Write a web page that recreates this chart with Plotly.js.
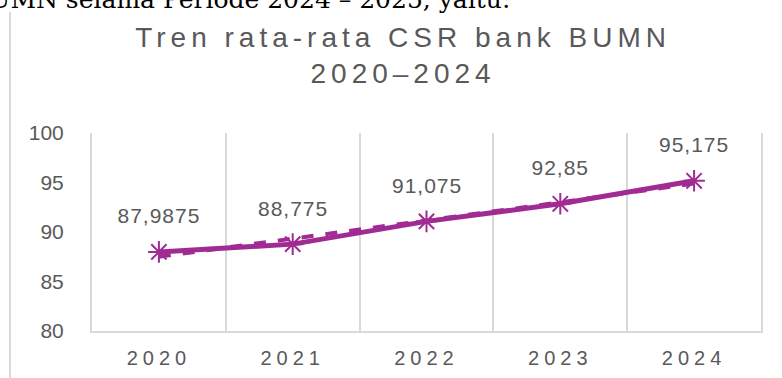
<!DOCTYPE html>
<html><head><meta charset="utf-8">
<script src="https://cdn.plot.ly/plotly-3.0.1.min.js"></script>
<style>
html,body{margin:0;padding:0;background:#fff;}
.gtitle{letter-spacing:5px;}
.xtick text{letter-spacing:5px;}
.annotation .annotation-text{letter-spacing:1px;}
.annotation[data-index="5"] .annotation-text{letter-spacing:0;}
</style>
</head><body><div id="chart" style="width:782px;height:378px;"></div>
<script>
const years = ["2020", "2021", "2022", "2023", "2024"];
const avgCSR = [87.9875, 88.775, 91.075, 92.85, 95.175];
const avgLabels = ["87,9875", "88,775", "91,075", "92,85", "95,175"];
const trendCSR = [87.5, 89.3, 91.2, 93.0, 94.9];
const yTicks = [80, 85, 90, 95, 100];
const titleText = "Tren rata-rata CSR bank BUMN<br>2020–2024";
const pageText = "BUMN selama Periode 2024 – 2025, yaitu:";

const purple = "#A02B93";
const gray = "#595959";
const font = "Liberation Sans, Arial, sans-serif";

const traces = [
  {
    x: years, y: avgCSR, type: "scatter", mode: "lines+markers",
    line: {color: purple, width: 5},
    marker: {symbol: "asterisk-open", size: 18, color: purple, line: {color: purple, width: 2}},
    hoverinfo: "skip", showlegend: false
  },
  {
    x: years, y: trendCSR, type: "scatter", mode: "lines",
    line: {color: purple, width: 4, dash: "dash"},
    hoverinfo: "skip", showlegend: false
  }
];

// category axes place annotations by category index
const annotations = years.map((yr, i) => ({
  x: i, y: avgCSR[i], text: avgLabels[i], showarrow: false, yshift: 36,
  font: {family: font, size: 21, color: gray}
}));
annotations.push({
  xref: "paper", yref: "paper", x: 0.628, y: 1.59, xanchor: "right", yanchor: "bottom",
  text: pageText, showarrow: false,
  font: {family: "DejaVu Serif, serif", size: 25, color: "#000"}
});

const layout = {
  width: 782, height: 378,
  margin: {l: 92, r: 21, t: 133, b: 47, pad: 0},
  paper_bgcolor: "#fff", plot_bgcolor: "#fff",
  title: {
    text: titleText, xref: "paper", x: 0.465, xanchor: "center",
    yref: "container", y: 0.876, yanchor: "middle",
    font: {family: font, size: 28, color: gray}
  },
  xaxis: {
    type: "category", categoryarray: years, range: [-0.5, years.length - 0.5],
    tickson: "boundaries", showgrid: true, gridcolor: "#d9d9d9", gridwidth: 2,
    showline: true, linecolor: "#d9d9d9", linewidth: 2, ticks: "", zeroline: false,
    tickangle: 0, ticklabelstandoff: 8,
    tickfont: {family: font, size: 20, color: gray}, fixedrange: true
  },
  yaxis: {
    range: [80, 100], tickmode: "array", tickvals: yTicks, ticktext: yTicks.map(String),
    showgrid: false, showline: true, mirror: true, linecolor: "#d9d9d9", linewidth: 2,
    zeroline: false, ticks: "",
    ticklabelstandoff: 22,
    tickfont: {family: font, size: 21, color: gray}, fixedrange: true
  },
  annotations: annotations,
  shapes: [{
    type: "line", xref: "paper", yref: "paper", x0: -0.1226, x1: -0.1226, y0: -0.3, y1: 1.611,
    line: {color: "#d9d9d9", width: 2}
  }]
};

Plotly.newPlot("chart", traces, layout, {displayModeBar: false, staticPlot: true});
</script>
</body></html>
